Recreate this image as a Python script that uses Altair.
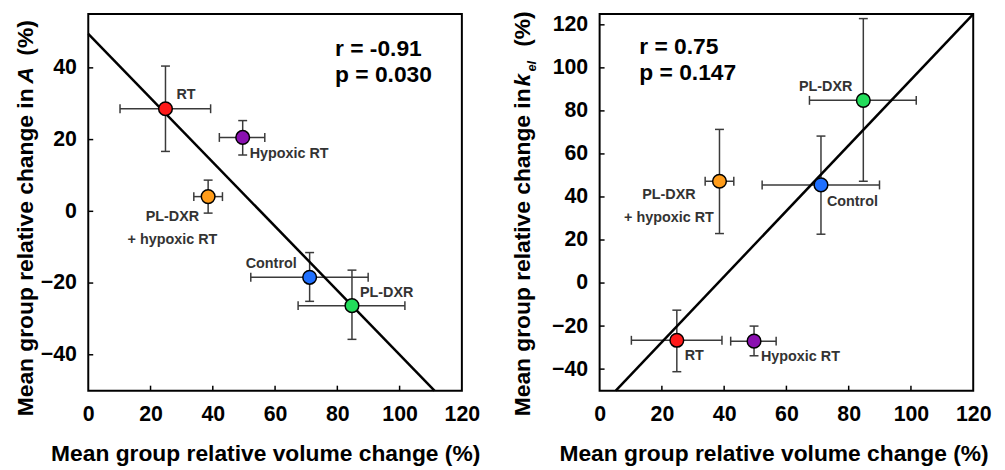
import altair as alt
import pandas as pd

# ---------------- data ----------------
groups = ["RT", "Hypoxic RT", "PL-DXR + hypoxic RT", "Control", "PL-DXR"]
colors = ["#ff1a1a", "#8a10b0", "#ff9c1a", "#1f70ff", "#22dc5a"]

vol_mean = [24.8, 49.6, 38.5, 71.1, 84.7]
vol_lo = [10.2, 42.1, 33.9, 52.2, 67.4]
vol_hi = [39.3, 56.7, 43.1, 89.9, 101.7]

a_mean = [28.6, 20.6, 4.1, -18.4, -26.3]
a_lo = [16.7, 15.7, -0.5, -25.1, -35.7]
a_hi = [40.5, 25.3, 8.7, -11.5, -16.4]

kel_mean = [-26.6, -27.0, 47.3, 45.6, 84.9]
kel_lo = [-41.2, -33.8, 23.0, 22.7, 47.3]
kel_hi = [-12.6, -20.0, 71.4, 68.3, 122.9]

fit_a_x = [0, 111.2]
fit_a_y = [49.5, -50]
fit_k_x = [5.2, 120]
fit_k_y = [-50, 125]

x_ticks = [0, 20, 40, 60, 80, 100, 120]
a_ticks = [-40, -20, 0, 20, 40]
k_ticks = [-40, -20, 0, 20, 40, 60, 80, 100, 120]

stats_a = ["r = -0.91", "p = 0.030"]
stats_k = ["r = 0.75", "p = 0.147"]
x_title = "Mean group relative volume change (%)"

# ---------------- style ----------------
FONT = "Liberation Sans"
W, H = 377, 380
BAR = "#3a3a3a"
LABEL = "#333333"


def one(**kw):
    return alt.Chart(pd.DataFrame({"d": [0]}))


def panel(ymean, ylo, yhi, ydomain, yticks, fit_x, fit_y, stats, stats_xy,
          labels, ytitle_parts, xtitle_x, ytitle_x):
    df = pd.DataFrame(dict(group=groups, x=vol_mean, xlo=vol_lo, xhi=vol_hi,
                           y=ymean, ylo=ylo, yhi=yhi))
    xs = alt.Scale(domain=[0, 120], nice=False, zero=False)
    ys = alt.Scale(domain=ydomain, nice=False, zero=False)
    ax = alt.Axis(values=x_ticks, title=None)
    ay = alt.Axis(values=yticks, title=None)

    def X(f):
        return alt.X(f"{f}:Q", scale=xs, axis=ax)

    def Y(f):
        return alt.Y(f"{f}:Q", scale=ys, axis=ay)

    base = alt.Chart(df)
    hbar = base.mark_rule(color=BAR, strokeWidth=1.5).encode(x=X("xlo"), x2="xhi", y=Y("y"))
    vbar = base.mark_rule(color=BAR, strokeWidth=1.5).encode(y=Y("ylo"), y2="yhi", x=X("x"))
    cap_xlo = base.mark_rule(color=BAR, strokeWidth=1.5, yOffset=-4.5, y2Offset=4.5).encode(
        x=X("xlo"), y=Y("y"), y2="y")
    cap_xhi = base.mark_rule(color=BAR, strokeWidth=1.5, yOffset=-4.5, y2Offset=4.5).encode(
        x=X("xhi"), y=Y("y"), y2="y")
    cap_ylo = base.mark_rule(color=BAR, strokeWidth=1.5, xOffset=-4.5, x2Offset=4.5).encode(
        y=Y("ylo"), x=X("x"), x2="x")
    cap_yhi = base.mark_rule(color=BAR, strokeWidth=1.5, xOffset=-4.5, x2Offset=4.5).encode(
        y=Y("yhi"), x=X("x"), x2="x")

    fit_df = pd.DataFrame({"x": [fit_x[0]], "x2": [fit_x[1]], "y": [fit_y[0]], "y2": [fit_y[1]]})
    fit = alt.Chart(fit_df).mark_rule(color="black", strokeWidth=2.5).encode(
        x=X("x"), x2="x2", y=Y("y"), y2="y2")

    pts = base.mark_point(filled=True, size=190, stroke="black", strokeWidth=1.5, opacity=1).encode(
        x=X("x"), y=Y("y"),
        fill=alt.Fill("group:N", scale=alt.Scale(domain=groups, range=colors), legend=None))

    # inward ticks
    xt = alt.Chart(pd.DataFrame({"v": x_ticks[1:-1]})).mark_rule(color="black", strokeWidth=1.5).encode(
        x=X("v"), y=alt.value(H), y2=alt.value(H - 5))
    yt = alt.Chart(pd.DataFrame({"v": yticks})).mark_rule(color="black", strokeWidth=1.5).encode(
        y=Y("v"), x=alt.value(0), x2=alt.value(5))

    layers = [xt, yt, hbar, vbar, cap_xlo, cap_xhi, cap_ylo, cap_yhi, fit, pts]

    for g, txt, dx, dy, align in labels:
        layers.append(
            base.transform_filter(alt.datum.group == g).mark_text(
                text=txt, dx=dx, dy=dy, align=align, baseline="middle",
                font=FONT, fontWeight="bold", fontSize=14.5, color=LABEL
            ).encode(x=X("x"), y=Y("y"))
        )

    # statistics
    for i, s in enumerate(stats):
        layers.append(one().mark_text(
            text=s, align="left", baseline="alphabetic", font=FONT, fontWeight="bold",
            fontSize=23, color="black").encode(x=alt.value(stats_xy[0]), y=alt.value(stats_xy[1] + 27 * i)))

    # x title
    layers.append(one().mark_text(
        text=x_title, align="center", baseline="middle", font=FONT, fontWeight="bold",
        fontSize=23, color="black").encode(x=alt.value(xtitle_x), y=alt.value(444)))

    # y title in pieces (to allow italic / subscript)
    for txt, ypos, style, size, xoff, align in ytitle_parts:
        layers.append(one().mark_text(
            text=txt, angle=270, align=align, baseline="middle", font=FONT, fontWeight="bold",
            fontStyle=style, fontSize=size, color="black").encode(
            x=alt.value(ytitle_x + xoff), y=alt.value(ypos)))

    return alt.layer(*layers).properties(width=W, height=H)


labels_a = [
    ("RT", "RT", 11, -14, "left"),
    ("Hypoxic RT", "Hypoxic RT", 7, 17, "left"),
    ("PL-DXR + hypoxic RT", "PL-DXR", -36, 21, "center"),
    ("PL-DXR + hypoxic RT", "+ hypoxic RT", -36, 44, "center"),
    ("Control", "Control", -13, -13, "right"),
    ("PL-DXR", "PL-DXR", 8, -13, "left"),
]
labels_k = [
    ("PL-DXR", "PL-DXR", -11, -13, "right"),
    ("PL-DXR + hypoxic RT", "PL-DXR", -51, 14, "center"),
    ("PL-DXR + hypoxic RT", "+ hypoxic RT", -51, 37, "center"),
    ("Control", "Control", 6, 17, "left"),
    ("RT", "RT", 8, 16, "left"),
    ("Hypoxic RT", "Hypoxic RT", 7, 16, "left"),
]

ytitle_a = [
    ("Mean group relative change in", 75, "normal", 23, 0, "right"),
    ("A", 70, "italic", 23, 0, "left"),
    ("(%)", 42, "normal", 23, 0, "left"),
]
ytitle_k = [
    ("Mean group relative change in", 75, "normal", 23, 0, "right"),
    ("k", 73, "italic", 23, 0, "left"),
    ("el", 58, "italic", 13, 9, "left"),
    ("(%)", 33, "normal", 23, 0, "left"),
]

left = panel(a_mean, a_lo, a_hi, [-50, 55], a_ticks, fit_a_x, fit_a_y, stats_a, (249, 42),
             labels_a, ytitle_a, 179, -63)
right = panel(kel_mean, kel_lo, kel_hi, [-50, 125], k_ticks, fit_k_x, fit_k_y, stats_k, (40, 40),
              labels_k, ytitle_k, 176, -77)

chart = alt.hconcat(left, right, spacing=139, bounds="flush").properties(
    padding={"left": 5, "top": 0, "right": 5, "bottom": 5}
).configure_view(
    stroke="black", strokeWidth=2
).configure_axis(
    labelFont=FONT, labelFontWeight="bold", labelFontSize=21.5, labelColor="black",
    ticks=False, tickSize=0, domain=False, grid=False, labelOverlap=False, labelFlush=False
).configure_axisX(labelPadding=13).configure_axisY(labelPadding=12)

chart.save("out.html", embed_options={"renderer": "svg", "actions": False})
